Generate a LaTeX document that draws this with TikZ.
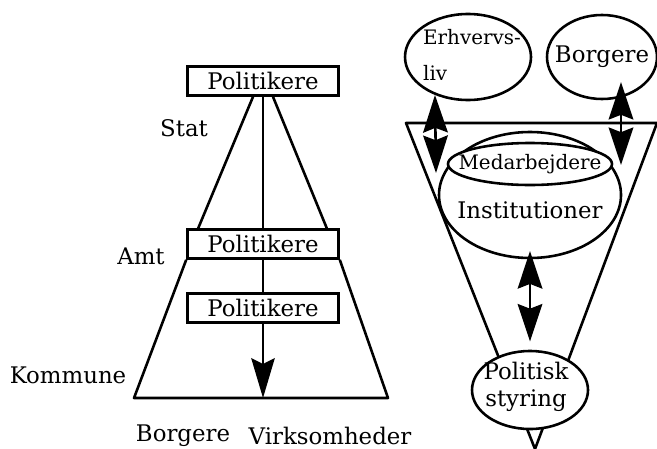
\documentclass[tikz,border=0pt]{standalone}
\usepackage{fontspec}
\setmainfont{DejaVu Serif}
\usetikzlibrary{shapes.geometric,arrows.meta,calc}

\begin{document}
\begin{tikzpicture}[
  x=0.03cm, y=-0.03cm,
  every node/.style={font=\fontsize{19.5}{23}\selectfont},
  pbox/.style={rectangle, draw, line width=2.2pt, minimum width=4.53cm, minimum height=0.87cm, inner sep=0pt},
  blob/.style={ellipse, draw, fill=white, line width=2.2pt, inner sep=0pt},
  small/.style={font=\fontsize{17}{30}\selectfont},
  edge/.style={line width=2.2pt, line join=round},
  flow/.style={line width=2.2pt, -{Stealth[length=34pt, width=20pt, inset=5pt]}},
  twoway/.style={line width=2.2pt, {Stealth[length=32pt, width=21pt, inset=4pt]}-{Stealth[length=32pt, width=21pt, inset=4pt]}}
]
\useasboundingbox (0,0) rectangle (657,448);

% Left: the three levels
\node[pbox] (top) at (263,81) {Politikere};
\node[pbox] (mid) at (263,244) {Politikere};
\node[pbox] (low) at (263,308) {Politikere};

\coordinate (baseL) at (134,398);
\coordinate (baseM) at (263,398);
\coordinate (baseR) at (388,398);

\draw[edge] ($(top.south)+(-10,0)$) -- ($(mid.north west)+(12,0)$);
\draw[edge] (top.south) -- (mid.north);
\draw[edge] ($(top.south)+(10,0)$) -- ($(mid.north east)+(-13,0)$);
\draw[edge] (mid.south west) -- (baseL) -- (baseR) -- (mid.south east);
\draw[edge] (mid.south) -- (low.north);
\draw[flow] (low.south) -- (baseM);

% Level names
\node (stat) at (184,128) {Stat};
\node (amt) at (141,256) {Amt};
\node (kommune) at (68,375) {Kommune};
\node (borg) at (183,436) {Borgere};
\node (virk) at (330,436) {Virksomheder};

% Right: inverted triangle
\coordinate (tl) at (406,123);
\coordinate (tr) at (657,123);
\coordinate (apex) at (535,449);
\draw[edge] (apex) -- (tl) -- (tr) -- cycle;

% Ellipses
\node[blob, minimum width=3.78cm, minimum height=2.58cm] (erh) at (468,57) {};
\node[small, align=left] at (472,55) {Erhvervs-\\liv};
\node[blob, minimum width=3.3cm, minimum height=2.52cm] (bor) at (602,57) {};
\node at (bor) {Borgere};
\node[blob, minimum width=5.46cm, minimum height=3.78cm] (inst) at (530,195) {};
\node at (530,210) {Institutioner};
\node[blob, minimum width=4.92cm, minimum height=1.26cm] (med) at (530,164) {};
\node[small] at (med) {Medarbejdere};
\node[blob, minimum width=3.48cm, minimum height=2.34cm] (pol) at (530,390) {};
\node[align=center] at (526,387) {Politisk\\styring};

% Two-way arrows
\coordinate (erhin) at (436,173);
\coordinate (borin) at (621,165);
\draw[twoway] (erh.229) -- (erhin);
\draw[twoway] ($(bor.center)+(19,25)$) -- (borin);
\draw[twoway, shorten <=-7pt, shorten >=7pt] (inst.south) -- (pol.north);

\end{tikzpicture}
\end{document}
